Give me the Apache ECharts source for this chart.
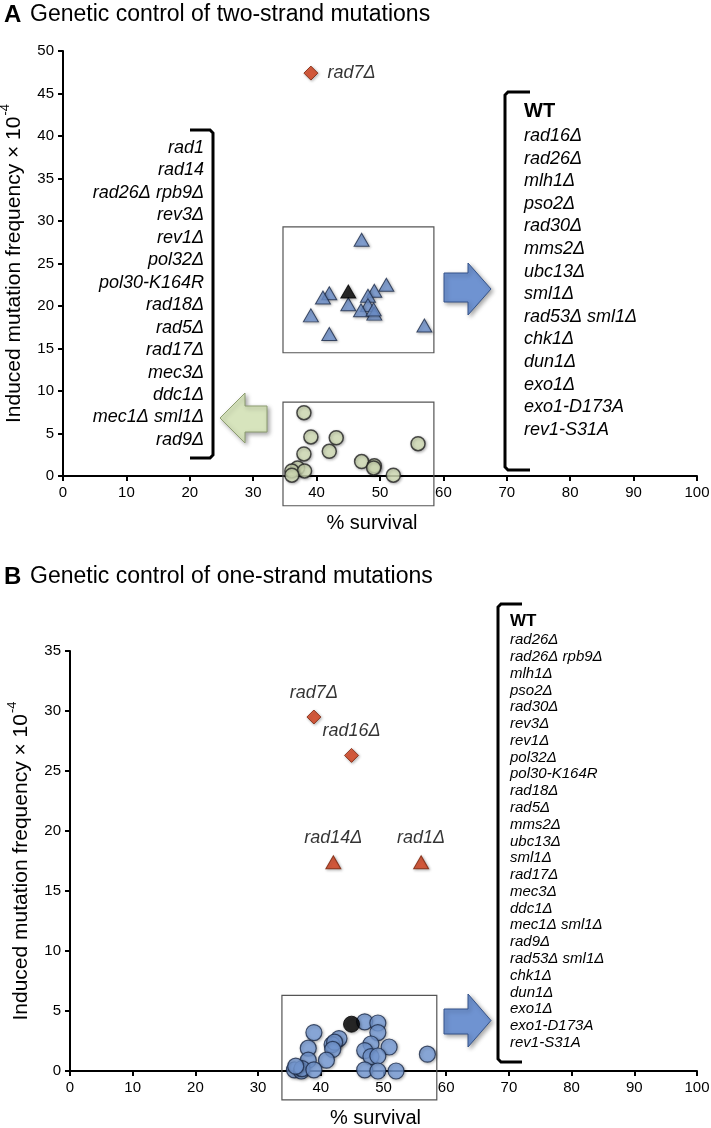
<!DOCTYPE html>
<html><head><meta charset="utf-8">
<script src="https://cdn.jsdelivr.net/npm/echarts@6/dist/echarts.min.js"></script>
<style>html,body{margin:0;padding:0;background:#fff}#c{width:711px;height:1128px}</style>
</head><body><div id="c"></div>
<script>
// ---------- DATA ----------
const titleA = 'Genetic control of two-strand mutations';
const titleB = 'Genetic control of one-strand mutations';
const xName = '% survival';
const yNameMain = 'Induced mutation frequency × 10';
const yNameExp = '-4';

// Panel A
const aRedDiamond = [[39.1, 47.4]];
const aRedNames = ['rad7Δ'];
const aBlueTri = [[47.1,27.8],[51.0,22.5],[49.1,21.8],[48.1,21.2],[42.0,21.5],[41.0,21.0],[45.0,20.2],[48.1,20.1],[47.0,19.5],[49.1,19.1],[49.0,19.6],[39.1,18.9],[57.0,17.7],[42.0,16.7]];
const aBlackTri = [[45.0,21.7]];
const aGreen = [[38.0,7.45],[39.1,4.6],[43.1,4.5],[56.0,3.8],[38.0,2.6],[42.0,2.9],[47.1,1.7],[49.1,1.2],[49.0,0.95],[52.1,0.1],[37.0,0.95],[36.1,0.6],[38.1,0.6],[36.1,0.1]];
const aListLeft = ['rad1','rad14','rad26Δ rpb9Δ','rev3Δ','rev1Δ','pol32Δ','pol30-K164R','rad18Δ','rad5Δ','rad17Δ','mec3Δ','ddc1Δ','mec1Δ sml1Δ','rad9Δ'];
const aListRight = ['rad16Δ','rad26Δ','mlh1Δ','pso2Δ','rad30Δ','mms2Δ','ubc13Δ','sml1Δ','rad53Δ sml1Δ','chk1Δ','dun1Δ','exo1Δ','exo1-D173A','rev1-S31A'];

// Panel B
const bRedDiamond = [[38.9,29.5],[44.9,26.3]];
const bRedDiamondNames = ['rad7Δ','rad16Δ'];
const bRedTri = [[42.0,17.4],[56.0,17.4]];
const bRedTriNames = ['rad14Δ','rad1Δ'];
const bBlack = [[44.9,3.9]];
const bBlue = [[47.0,4.1],[49.1,4.0],[49.1,3.2],[38.9,3.2],[42.9,2.7],[41.8,2.2],[42.2,2.4],[41.9,1.8],[48.0,2.25],[50.9,2.0],[38.0,1.9],[47.0,1.7],[48.0,1.2],[49.1,1.25],[57.0,1.4],[38.0,0.9],[40.9,0.9],[35.8,0.1],[36.9,0.0],[37.0,0.2],[38.9,0.1],[47.0,0.1],[49.1,0.0],[52.0,0.0],[36.0,0.4]];
const bList = ['rad26Δ','rad26Δ rpb9Δ','mlh1Δ','pso2Δ','rad30Δ','rev3Δ','rev1Δ','pol32Δ','pol30-K164R','rad18Δ','rad5Δ','mms2Δ','ubc13Δ','sml1Δ','rad17Δ','mec3Δ','ddc1Δ','mec1Δ sml1Δ','rad9Δ','rad53Δ sml1Δ','chk1Δ','dun1Δ','exo1Δ','exo1-D173A','rev1-S31A'];

// ---------- STYLE ----------
const FN = "'Liberation Sans Narrow','Liberation Sans',Arial,sans-serif";
const FS = "'Liberation Sans',Arial,sans-serif";
const shadow = {shadowBlur:3, shadowColor:'rgba(0,0,0,0.35)', shadowOffsetX:1, shadowOffsetY:1};

function xAx(gi){
  return {gridIndex:gi, type:'value', min:0, max:100, interval:10,
    axisLine:{show:true, onZero:false, lineStyle:{color:'#000', width:2}},
    axisTick:{show:true, length:5, lineStyle:{color:'#000', width:2}},
    axisLabel:{fontFamily:FN, fontSize:15, color:'#000', margin:9},
    splitLine:{show:false},
    name:xName, nameLocation:'middle', nameGap:37,
    nameTextStyle:{fontFamily:FS, fontSize:20, color:'#000', padding:[0,16,0,0]}};
}
function yAx(gi, max){
  return {gridIndex:gi, type:'value', min:0, max:max, interval:5,
    axisLine:{show:true, onZero:false, lineStyle:{color:'#000', width:2}},
    axisTick:{show:true, length:5, lineStyle:{color:'#000', width:2}},
    axisLabel:{fontFamily:FN, fontSize:15, color:'#000', margin:9},
    splitLine:{show:false},
    name:'{m|' + yNameMain + '}{e|' + yNameExp + '}', nameLocation:'middle', nameGap:38, nameRotate:90,
    nameTextStyle:{fontFamily:FS, fontSize:21, color:'#000',
      rich:{m:{fontFamily:FS, fontSize:21, color:'#000', lineHeight:26, verticalAlign:'bottom'},
            e:{fontFamily:FS, fontSize:13, color:'#000', lineHeight:26, verticalAlign:'top', padding:[0,0,0,1]}}}};
}
function named(arr, names){ return arr.map((p,i)=>({value:p, name:names[i]})); }

const chart = echarts.init(document.getElementById('c'));
chart.setOption({
  animation:false,
  backgroundColor:'#fff',
  grid:[
    {left:63, top:51, width:634, height:425, containLabel:false, outerBoundsMode:'none'},
    {left:70, top:651, width:627, height:420, containLabel:false, outerBoundsMode:'none'}
  ],
  xAxis:[xAx(0), xAx(1)],
  yAxis:[yAx(0,50), yAx(1,35)],
  series:[
    {type:'scatter', xAxisIndex:0, yAxisIndex:0, symbol:'diamond', symbolSize:[14,14],
     itemStyle:Object.assign({color:'#d8401a', borderColor:'#7a2008', borderWidth:1}, shadow),
     label:{show:true, position:'right', distance:9, formatter:'{b}', fontFamily:FS, fontStyle:'italic', fontSize:18, color:'#000'},
     data:named(aRedDiamond, aRedNames)},
    {type:'scatter', xAxisIndex:0, yAxisIndex:0, symbol:'triangle', symbolSize:[15,13],
     itemStyle:Object.assign({color:'#7095d2', borderColor:'#1c2a48', borderWidth:1}, shadow),
     data:aBlueTri},
    {type:'scatter', xAxisIndex:0, yAxisIndex:0, symbol:'triangle', symbolSize:[15,13], z:5,
     itemStyle:Object.assign({color:'#000', borderColor:'#000', borderWidth:1}, shadow),
     data:aBlackTri},
    {type:'scatter', xAxisIndex:0, yAxisIndex:0, symbol:'circle', symbolSize:14,
     itemStyle:Object.assign({color:'#d8e4bc', borderColor:'#222', borderWidth:1.5}, shadow),
     data:aGreen},
    {type:'scatter', xAxisIndex:1, yAxisIndex:1, symbol:'diamond', symbolSize:[14,14],
     itemStyle:Object.assign({color:'#d8401a', borderColor:'#7a2008', borderWidth:1}, shadow),
     label:{show:true, position:'top', distance:8, formatter:'{b}', fontFamily:FS, fontStyle:'italic', fontSize:18, color:'#000'},
     data:named(bRedDiamond, bRedDiamondNames)},
    {type:'scatter', xAxisIndex:1, yAxisIndex:1, symbol:'triangle', symbolSize:[15,13],
     itemStyle:Object.assign({color:'#d8401a', borderColor:'#7a2008', borderWidth:1}, shadow),
     label:{show:true, position:'top', distance:8, formatter:'{b}', fontFamily:FS, fontStyle:'italic', fontSize:18, color:'#000'},
     data:named(bRedTri, bRedTriNames)},
    {type:'scatter', xAxisIndex:1, yAxisIndex:1, symbol:'circle', symbolSize:16,
     itemStyle:Object.assign({color:'#7ba0dc', borderColor:'#1c2a48', borderWidth:1.2}, shadow),
     data:bBlue},
    {type:'scatter', xAxisIndex:1, yAxisIndex:1, symbol:'circle', symbolSize:16, z:5,
     itemStyle:Object.assign({color:'#000', borderColor:'#000', borderWidth:1}, shadow),
     data:bBlack}
  ]
});

// ---------- ANNOTATIONS ----------
function px(gi, x, y){ return chart.convertToPixel({gridIndex:gi}, [x,y]); }
function box(gi, x0, x1, y0, y1){
  const a = px(gi, x0, y1), b = px(gi, x1, y0);
  return {type:'rect', shape:{x:a[0], y:a[1], width:b[0]-a[0], height:b[1]-a[1]},
    style:{fill:'none', stroke:'#555', lineWidth:1.2}, z:1};
}
const arrowShadow = {shadowBlur:4, shadowColor:'rgba(0,0,0,0.35)', shadowOffsetX:2, shadowOffsetY:2};
function arrowRight(x0, xh, x1, sy0, sy1, hy0, hy1, fill, stroke){
  const ty = (hy0+hy1)/2;
  return {type:'polygon', shape:{points:[[x0,sy0],[xh,sy0],[xh,hy0],[x1,ty],[xh,hy1],[xh,sy1],[x0,sy1]]},
    style:Object.assign({fill:fill, stroke:stroke, lineWidth:1}, arrowShadow)};
}
function arrowLeft(x1, xh, x0, sy0, sy1, hy0, hy1, fill, stroke){
  const ty = (hy0+hy1)/2;
  return {type:'polygon', shape:{points:[[x1,sy0],[xh,sy0],[xh,hy0],[x0,ty],[xh,hy1],[xh,sy1],[x1,sy1]]},
    style:Object.assign({fill:fill, stroke:stroke, lineWidth:1}, arrowShadow)};
}
function bracketL(x, y0, y1, hookX){
  return {type:'polyline', shape:{points:[[hookX,y0],[x+3,y0],[x,y0+3],[x,y1-3],[x+3,y1],[hookX,y1]]},
    style:{stroke:'#000', lineWidth:3, fill:'none'}};
}
function bracketR(x, y0, y1, hookX){
  return {type:'polyline', shape:{points:[[hookX,y0],[x-3,y0],[x,y0+3],[x,y1-3],[x-3,y1],[hookX,y1]]},
    style:{stroke:'#000', lineWidth:3, fill:'none'}};
}
function txt(x, y, s, size, opts){
  return {type:'text', x:x, y:y, style:Object.assign({text:s, fontFamily:FS, fontSize:size, fill:'#000', textVerticalAlign:'middle', verticalAlign:'middle'}, opts||{})};
}

const g = [];
// titles
g.push(txt(4, 15, 'A', 24, {fontWeight:'bold'}));
g.push(txt(30, 15, titleA, 23));
g.push(txt(4, 577, 'B', 24, {fontWeight:'bold'}));
g.push(txt(30, 577, titleB, 23));
// boxes
g.push(box(0, 34.7, 58.5, 14.5, 29.3));
g.push(box(0, 34.7, 58.5, -3.5, 8.7));
g.push(box(1, 33.8, 58.5, -2.4, 6.3));
// arrows
g.push(arrowRight(444, 468, 491, 273, 302, 263, 315, '#6f93d1', '#34538a'));
g.push(arrowLeft(267, 245, 220, 406, 432, 393, 443, '#d7e4bd', '#8c9c70'));
g.push(arrowRight(444, 468, 491, 1009, 1034, 994, 1047, '#6f93d1', '#34538a'));
// brackets
g.push(bracketR(213, 130, 458, 190));
g.push(bracketL(505, 92, 470, 530));
g.push(bracketL(498, 604, 1062, 522));
// list A left (right aligned)
aListLeft.forEach((s,i)=> g.push(txt(204, 148 + i*22.45, s, 18, {fontStyle:'italic', textAlign:'right', align:'right'})));
// list A right
g.push(txt(524, 111, 'WT', 20, {fontWeight:'bold'}));
aListRight.forEach((s,i)=> g.push(txt(524, 136 + i*22.6, s, 18, {fontStyle:'italic'})));
// list B
g.push(txt(510, 621, 'WT', 17, {fontWeight:'bold'}));
bList.forEach((s,i)=> g.push(txt(510, 640 + i*16.78, s, 15, {fontStyle:'italic'})));

chart.setOption({graphic:g});
</script>
</body></html>
